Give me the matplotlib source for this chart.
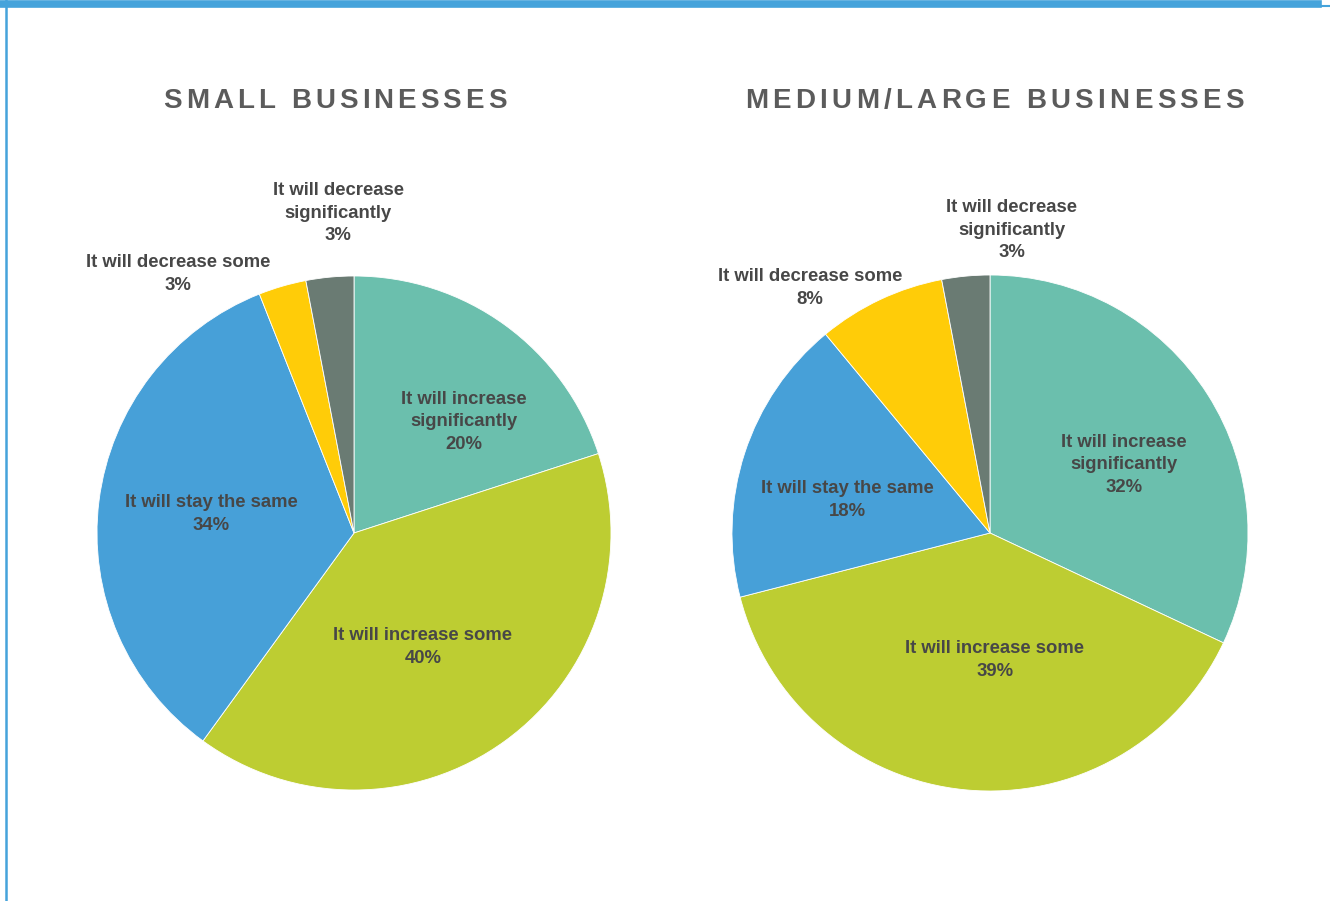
import matplotlib
matplotlib.use('Agg')
import matplotlib.pyplot as plt
from matplotlib.lines import Line2D

categories = ['It will increase\nsignificantly', 'It will increase some', 'It will stay the same',
              'It will decrease some', 'It will decrease\nsignificantly']
small = [20, 40, 34, 3, 3]
medium = [32, 39, 18, 8, 3]
colors = ['#6BBFAD', '#BDCD32', '#47A0D8', '#FFCC08', '#6A7B73']

# label positions in pie-radius units
small_pos = [(0.428, 0.432), (0.268, -0.444), (-0.556, 0.074), (-0.685, 1.008), (-0.062, 1.245)]
medium_pos = [(0.519, 0.264), (0.019, -0.492), (-0.554, 0.128), (-0.698, 0.950), (0.085, 1.174)]

W, H = 1330, 901
fig = plt.figure(figsize=(W / 100, H / 100), dpi=100)
fig.patch.set_facecolor('white')

# frame lines
fig.add_artist(Line2D([0, 1318 / W], [1 - 3.5 / H, 1 - 3.5 / H], color='#45A3DB', lw=5.5, transform=fig.transFigure))
fig.add_artist(Line2D([1318 / W, 1], [1 - 5.5 / H, 1 - 5.5 / H], color='#45A3DB', lw=1.5, transform=fig.transFigure))
fig.add_artist(Line2D([6 / W, 6 / W], [0, 1], color='#45A3DB', lw=1.8, transform=fig.transFigure))


def draw_pie(cx, cy, r, values, positions):
    ax = fig.add_axes([(cx - r) / W, 1 - (cy + r) / H, 2 * r / W, 2 * r / H])
    ax.pie(values, colors=colors, startangle=90, counterclock=False,
           wedgeprops=dict(edgecolor='white', linewidth=0.6))
    ax.set_xlim(-1, 1)
    ax.set_ylim(-1, 1)
    ax.axis('off')
    for cat, v, (x, y) in zip(categories, values, positions):
        ax.text(x, y, f'{cat}\n{v}%', ha='center', va='center', fontsize=13.3,
                fontweight='bold', color='#474747', family='Liberation Sans',
                linespacing=1.42, clip_on=False)


def spaced_title(text, cx, cy, size, tracking):
    renderer = fig.canvas.get_renderer()
    parts = []
    widths = []
    for ch in text:
        t = fig.text(0, 0, ch if ch != ' ' else '\u00a0', fontsize=size, fontweight='bold',
                     color='#5B5B5B', family='Liberation Sans', va='center', ha='left')
        bb = t.get_window_extent(renderer)
        parts.append(t)
        widths.append(bb.width)
    total = sum(widths) + tracking * (len(text) - 1)
    x = cx - total / 2
    for t, w in zip(parts, widths):
        t.set_position((x / W, 1 - cy / H))
        x += w + tracking


draw_pie(354, 533, 257, small, small_pos)
draw_pie(990, 533, 258, medium, medium_pos)

spaced_title('SMALL BUSINESSES', 335, 101, 20, 4.0)
spaced_title('MEDIUM/LARGE BUSINESSES', 994.5, 101, 20, 4.3)

fig.savefig('out.png', dpi=100, facecolor='white')
